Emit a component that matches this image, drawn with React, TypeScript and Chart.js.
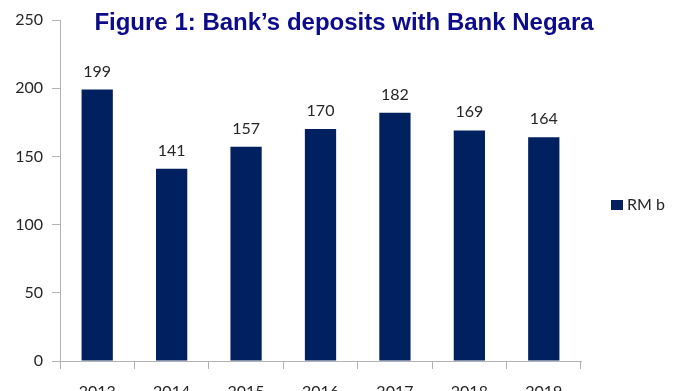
import { useEffect, useRef } from 'react';
import { Chart, registerables } from 'chart.js';

Chart.register(...registerables);

// ---- data ----
const categories = ['2013', '2014', '2015', '2016', '2017', '2018', '2019'];
const depositsRMb = [199, 141, 157, 170, 182, 169, 164];
const seriesLabel = 'RM b';
const chartTitle = 'Figure 1: Bank\u2019s deposits with Bank Negara';
const yMin = 0;
const yMax = 250;
const yStep = 50;

// ---- styles ----
const BAR = '#002060';
const AXIS = '#b3b3b3';
const TEXT = '#262626';
const TITLE = '#0c0c8a';
const FONT = 'Lato, "Open Sans", sans-serif';

const overlayPlugin = {
  id: 'overlay',
  afterDatasetsDraw(chart: any) {
    const ctx = chart.ctx;
    const meta = chart.getDatasetMeta(0);
    ctx.save();
    // data labels
    ctx.font = `16px ${FONT}`;
    ctx.fillStyle = TEXT;
    ctx.textAlign = 'center';
    ctx.textBaseline = 'alphabetic';
    meta.data.forEach((bar: any, i: number) => {
      ctx.fillText(String(depositsRMb[i]), bar.x, bar.y - 13);
    });
    // title
    ctx.font = `bold 24px "Liberation Sans", Arial, sans-serif`;
    ctx.fillStyle = TITLE;
    ctx.textBaseline = 'alphabetic';
    ctx.fillText(chartTitle, 344, 30);
    // legend
    const area = chart.chartArea;
    const lx = area.right + 30;
    const ly = 205;
    ctx.fillStyle = BAR;
    ctx.fillRect(lx, ly - 5, 12, 10);
    ctx.font = `16px ${FONT}`;
    ctx.fillStyle = TEXT;
    ctx.textAlign = 'left';
    ctx.textBaseline = 'middle';
    ctx.fillText(seriesLabel, lx + 16, ly);
    ctx.restore();
  },
};

export default function App() {
  const ref = useRef<HTMLCanvasElement>(null);
  useEffect(() => {
    const chart = new Chart(ref.current as HTMLCanvasElement, {
      type: 'bar',
      data: {
        labels: categories,
        datasets: [
          {
            label: seriesLabel,
            data: depositsRMb,
            backgroundColor: BAR,
            categoryPercentage: 1,
            barPercentage: 0.42,
          },
        ],
      },
      options: {
        responsive: false,
        animation: false,
        layout: { padding: { left: 0, top: 20, right: 100, bottom: 0 } },
        plugins: {
          legend: { display: false },
          title: { display: false },
          tooltip: { enabled: false },
        },
        scales: {
          x: {
            grid: { display: true, drawOnChartArea: false, drawTicks: true, tickLength: 8, color: AXIS, offset: true },
            border: { color: AXIS, width: 1 },
            ticks: { font: { family: FONT, size: 16 }, color: TEXT, padding: 13, maxRotation: 0 },
            afterFit: (s: any) => {
              s.height = 30;
            },
          },
          y: {
            min: yMin,
            max: yMax,
            ticks: { stepSize: yStep, font: { family: FONT, size: 16 }, color: TEXT, padding: 9 },
            grid: { drawOnChartArea: false, tickLength: 8, color: AXIS },
            border: { color: AXIS, width: 1 },
            afterFit: (s: any) => {
              s.width = 60;
            },
          },
        },
      },
      plugins: [overlayPlugin],
    } as any);
    return () => chart.destroy();
  }, []);
  return (
    <div style={{ position: 'fixed', left: 0, top: 0, width: 681, height: 391, background: '#fff', overflow: 'hidden' }}>
      <canvas ref={ref} width={681} height={391} style={{ display: 'block' }} />
    </div>
  );
}
